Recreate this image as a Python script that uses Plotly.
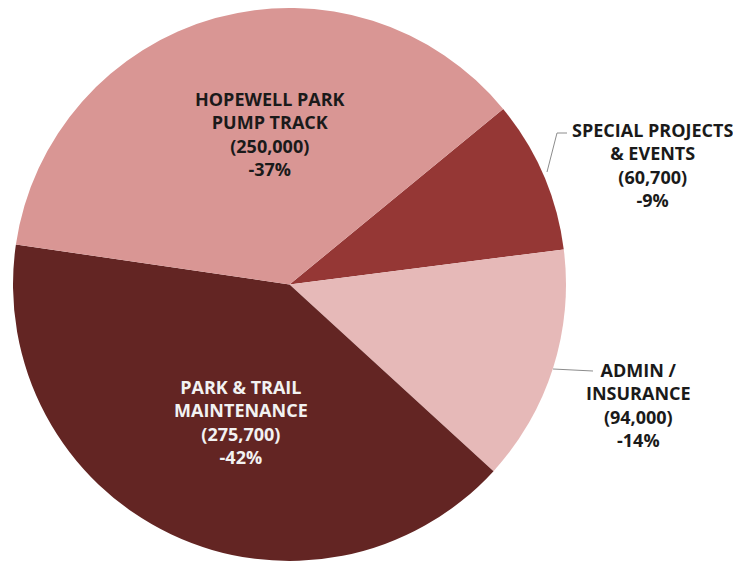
import plotly.graph_objects as go

# Budget slices, in drawing order (clockwise from the Special Projects edge)
labels = ["SPECIAL PROJECTS<br>& EVENTS", "ADMIN /<br>INSURANCE",
          "PARK & TRAIL<br>MAINTENANCE", "HOPEWELL PARK<br>PUMP TRACK"]
values = [60700, 94000, 275700, 250000]
pct_text = ["-9%", "-14%", "-42%", "-37%"]
colors = ["#953735", "#E6B9B8", "#632523", "#D99694"]
text_colors = ["#1A1A1A", "#1A1A1A", "#F2F2F2", "#1A1A1A"]

W, H = 741, 564
OFF = 8  # page body margin shifts the figure

def px(x):
    return (x - OFF) / W

def py(y):
    return 1 - (y - OFF) / H

# label centres in pixels (screen)
label_pos = [(652, 165), (638, 405), (241, 422), (270, 134)]

fig = go.Figure()
fig.add_trace(go.Pie(
    labels=labels,
    values=values,
    marker=dict(colors=colors, line=dict(width=0)),
    sort=False,
    direction="clockwise",
    rotation=50.6,
    textinfo="none",
    hoverinfo="label+value",
    showlegend=False,
    domain=dict(x=[px(13), px(566)], y=[py(561), 1]),
))

for lab, v, p, (x, y), tc in zip(labels, values, pct_text, label_pos, text_colors):
    fig.add_annotation(
        x=px(x), y=py(y), xref="paper", yref="paper",
        text="<b>%s<br>(%s)<br>%s</b>" % (lab, f"{v:,}", p),
        showarrow=False, xanchor="center", yanchor="middle",
        align="center",
        font=dict(family="'Open Sans', sans-serif", size=18, color=tc),
    )

# leader lines for the outside labels
leaders = [[(547, 172), (557, 133), (567, 133)],
           [(553, 369), (593, 371)]]
for pts in leaders:
    for (x0, y0), (x1, y1) in zip(pts[:-1], pts[1:]):
        fig.add_shape(type="line", xref="paper", yref="paper",
                      x0=px(x0), y0=py(y0), x1=px(x1), y1=py(y1),
                      line=dict(color="#8C8C8C", width=1))

fig.update_layout(
    width=W, height=H,
    margin=dict(l=0, r=0, t=0, b=0),
    paper_bgcolor="white",
    plot_bgcolor="white",
)

fig.write_html("out.html")
